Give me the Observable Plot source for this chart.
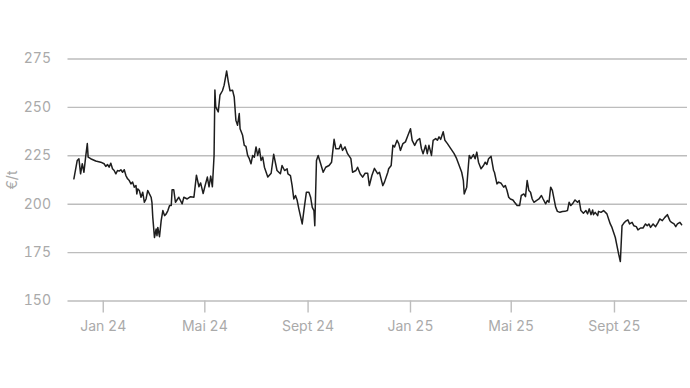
<!DOCTYPE html>
<html><head><meta charset="utf-8">
<script src="https://cdn.jsdelivr.net/npm/d3@7"></script>
<script src="https://cdn.jsdelivr.net/npm/@observablehq/plot@0.6"></script>
<style>body{margin:0;background:#fff}</style>
</head><body><div id="chart"></div>
<script>
const dates = [
"2023-11-27","2023-12-01","2023-12-03","2023-12-05","2023-12-07","2023-12-09","2023-12-11","2023-12-13","2023-12-14","2023-12-17","2023-12-23","2023-12-29",
"2024-01-02","2024-01-04","2024-01-06","2024-01-08","2024-01-10","2024-01-12","2024-01-14","2024-01-16","2024-01-18","2024-01-20","2024-01-22","2024-01-24","2024-01-26","2024-01-28","2024-01-30",
"2024-02-01","2024-02-03","2024-02-05","2024-02-07","2024-02-09","2024-02-10","2024-02-11","2024-02-13","2024-02-15","2024-02-17","2024-02-19","2024-02-21","2024-02-23","2024-02-25","2024-02-27","2024-02-28","2024-02-29",
"2024-03-02","2024-03-04","2024-03-05","2024-03-06","2024-03-08","2024-03-10","2024-03-12","2024-03-14","2024-03-16","2024-03-18","2024-03-20","2024-03-22","2024-03-23","2024-03-25","2024-03-27","2024-03-31",
"2024-04-04","2024-04-06","2024-04-10","2024-04-14","2024-04-18","2024-04-21","2024-04-24","2024-04-26","2024-04-29",
"2024-05-01","2024-05-04","2024-05-06","2024-05-08","2024-05-10","2024-05-12","2024-05-13","2024-05-14","2024-05-17","2024-05-19","2024-05-22","2024-05-24","2024-05-27","2024-05-29","2024-05-31",
"2024-06-03","2024-06-05","2024-06-07","2024-06-09","2024-06-11","2024-06-12","2024-06-15","2024-06-17","2024-06-19","2024-06-21","2024-06-23","2024-06-25","2024-06-27","2024-06-29",
"2024-07-01","2024-07-03","2024-07-05","2024-07-07","2024-07-09","2024-07-11","2024-07-15","2024-07-19","2024-07-22","2024-07-26","2024-07-30",
"2024-08-01","2024-08-04","2024-08-07","2024-08-08","2024-08-11","2024-08-13","2024-08-15","2024-08-17","2024-08-19","2024-08-21","2024-08-25","2024-08-27","2024-08-30",
"2024-09-02","2024-09-04","2024-09-06","2024-09-08","2024-09-09","2024-09-11","2024-09-13","2024-09-16","2024-09-19","2024-09-22","2024-09-26","2024-09-29",
"2024-10-02","2024-10-04","2024-10-08","2024-10-10","2024-10-12","2024-10-15","2024-10-18","2024-10-22","2024-10-24","2024-10-28","2024-10-30",
"2024-11-02","2024-11-05","2024-11-08","2024-11-11","2024-11-13","2024-11-16","2024-11-19","2024-11-23","2024-11-25","2024-11-29",
"2024-12-01","2024-12-05","2024-12-06","2024-12-09","2024-12-11","2024-12-13","2024-12-16","2024-12-18","2024-12-20","2024-12-23","2024-12-26","2024-12-29",
"2025-01-01","2025-01-03","2025-01-06","2025-01-09","2025-01-12","2025-01-14","2025-01-16","2025-01-19","2025-01-21","2025-01-23","2025-01-26","2025-01-28","2025-01-31",
"2025-02-02","2025-02-04","2025-02-06","2025-02-09","2025-02-11","2025-02-14","2025-02-18","2025-02-22","2025-02-25","2025-02-28",
"2025-03-03","2025-03-05","2025-03-06","2025-03-09","2025-03-11","2025-03-12","2025-03-14","2025-03-17","2025-03-19","2025-03-21","2025-03-23","2025-03-26","2025-03-29","2025-03-31",
"2025-04-02","2025-04-04","2025-04-07","2025-04-10","2025-04-11","2025-04-14","2025-04-16","2025-04-19","2025-04-22","2025-04-24","2025-04-26","2025-04-28","2025-04-30",
"2025-05-03","2025-05-05","2025-05-08","2025-05-11","2025-05-13","2025-05-16","2025-05-18","2025-05-20","2025-05-22","2025-05-24","2025-05-26","2025-05-28","2025-05-31",
"2025-06-03","2025-06-06","2025-06-08","2025-06-11","2025-06-13","2025-06-15","2025-06-17","2025-06-19","2025-06-21","2025-06-23","2025-06-25","2025-06-28",
"2025-07-01","2025-07-04","2025-07-07","2025-07-09","2025-07-11","2025-07-13","2025-07-16","2025-07-19","2025-07-21","2025-07-23","2025-07-26","2025-07-29","2025-07-31",
"2025-08-02","2025-08-04","2025-08-06","2025-08-07","2025-08-09","2025-08-12","2025-08-13","2025-08-16","2025-08-19","2025-08-23","2025-08-25","2025-08-27","2025-08-29","2025-08-31",
"2025-09-02","2025-09-04","2025-09-06","2025-09-08","2025-09-10","2025-09-12","2025-09-14","2025-09-17","2025-09-19","2025-09-22","2025-09-24","2025-09-27","2025-09-29",
"2025-10-02","2025-10-05","2025-10-08","2025-10-10","2025-10-12","2025-10-14","2025-10-17","2025-10-20","2025-10-23","2025-10-25","2025-10-28","2025-10-31",
"2025-11-03","2025-11-06","2025-11-08","2025-11-11","2025-11-13","2025-11-15","2025-11-18","2025-11-20"
];
const values = [
213.1,222.6,223.5,215.7,220.9,216.5,224.3,231.3,224.3,223.5,222.3,221.7,
220.9,219.5,220.5,219.1,221.2,218.3,217.4,215.7,217.4,217.1,217.8,216.5,217.8,214.8,213.1,
212.2,210.5,211.4,208.8,209.6,205.3,207.9,207.1,203.6,206.2,201.0,202.7,207.1,205.3,203.6,201.0,193.2,
182.8,187.2,183.7,188.0,183.2,191.5,196.7,194.1,195.0,196.7,199.3,199.3,207.4,207.4,201.0,203.6,
200.2,203.6,202.7,203.9,203.6,215.0,209.0,211.0,205.5,
209.0,214.0,209.0,214.5,209.0,225.0,259.0,250.3,247.7,256.3,258.6,261.5,268.8,263.2,258.6,
258.9,255.4,243.4,240.8,246.8,239.0,235.6,230.4,229.9,225.2,223.5,220.9,225.2,224.3,
229.6,225.2,228.7,222.6,224.3,219.1,214.0,216.0,225.8,217.4,215.7,
220.0,217.4,218.3,215.7,214.8,209.6,202.7,204.5,202.0,197.6,189.8,196.7,206.2,
206.2,203.6,198.4,196.7,188.9,222.6,225.2,220.9,216.5,219.1,220.0,221.7,
233.5,228.7,228.7,230.9,227.8,229.6,226.1,223.5,216.5,217.4,219.1,
215.7,214.0,216.0,216.0,209.6,214.8,218.5,215.7,216.5,209.6,
211.4,216.5,218.3,220.0,230.4,229.6,233.0,231.3,227.8,231.3,232.2,235.6,
239.0,233.0,230.4,233.0,233.9,228.7,226.1,230.4,226.1,230.4,225.2,233.0,233.9,
233.0,234.8,233.5,237.4,233.0,231.3,228.7,226.1,223.5,220.0,
216.5,212.2,205.3,208.8,220.0,225.2,223.5,225.6,223.5,226.9,221.7,218.3,220.0,221.7,
220.5,223.5,224.7,217.4,216.5,210.5,211.4,210.8,208.8,209.6,207.1,203.6,202.7,
202.2,201.0,199.3,199.3,204.5,205.3,203.9,212.2,207.1,206.2,202.7,201.0,201.9,
202.7,204.5,202.7,200.2,201.9,201.0,208.8,207.1,202.7,198.4,196.3,195.8,
196.2,196.3,196.7,201.0,199.3,200.2,202.2,201.0,201.9,196.7,195.3,196.7,195.0,
197.6,194.6,197.0,194.6,195.8,194.1,196.3,195.8,196.7,195.0,192.4,189.8,188.0,185.4,
182.8,178.5,174.2,170.4,188.9,190.1,191.1,191.9,189.8,190.6,188.9,188.4,186.7,
187.7,187.7,189.8,188.9,189.8,188.0,189.8,188.4,190.6,192.4,191.5,193.2,
194.6,191.5,190.6,189.8,188.4,189.8,190.6,189.4
];
const yTicks = [150, 175, 200, 225, 250, 275];
const xTickDates = ["2024-01-01", "2024-05-01", "2024-09-01", "2025-01-01", "2025-05-01", "2025-09-01"];
const xTickLabels = ["Jan 24", "Mai 24", "Sept 24", "Jan 25", "Mai 25", "Sept 25"];

const data = dates.map((d, i) => ({date: new Date(d), value: values[i]}));
const xTicks = xTickDates.map(d => new Date(d));
const labelMap = new Map(xTicks.map((d, i) => [+d, xTickLabels[i]]));

const chart = Plot.plot({
  width: 690,
  height: 388,
  marginLeft: 67.5,
  marginRight: 3,
  marginTop: 58.5,
  marginBottom: 87.5,
  style: {fontFamily: "Inter, 'Noto Sans', sans-serif", fontSize: "14px", color: "#aaaaaa", background: "#fff"},
  x: {type: "utc", domain: [new Date("2023-11-20"), new Date("2025-11-27")]},
  y: {domain: [150, 275]},
  marks: [
    Plot.gridY(yTicks, {stroke: "#bdbdbd", strokeOpacity: 1, strokeWidth: 1.4}),
    Plot.axisY(yTicks, {tickSize: 0, tickPadding: 17, label: "€/t", labelAnchor: "center", labelArrow: "none", labelOffset: 61, fill: "#aaaaaa"}),
    Plot.axisX(xTicks, {tickSize: 12, tickPadding: 8, tickFormat: d => labelMap.get(+d), stroke: "#bdbdbd", strokeWidth: 1.4, label: null, fill: "#aaaaaa"}),
    Plot.lineY(data, {x: "date", y: "value", stroke: "#1e1e1e", strokeWidth: 1.5})
  ]
});
document.getElementById("chart").appendChild(chart);
</script>
</body></html>
